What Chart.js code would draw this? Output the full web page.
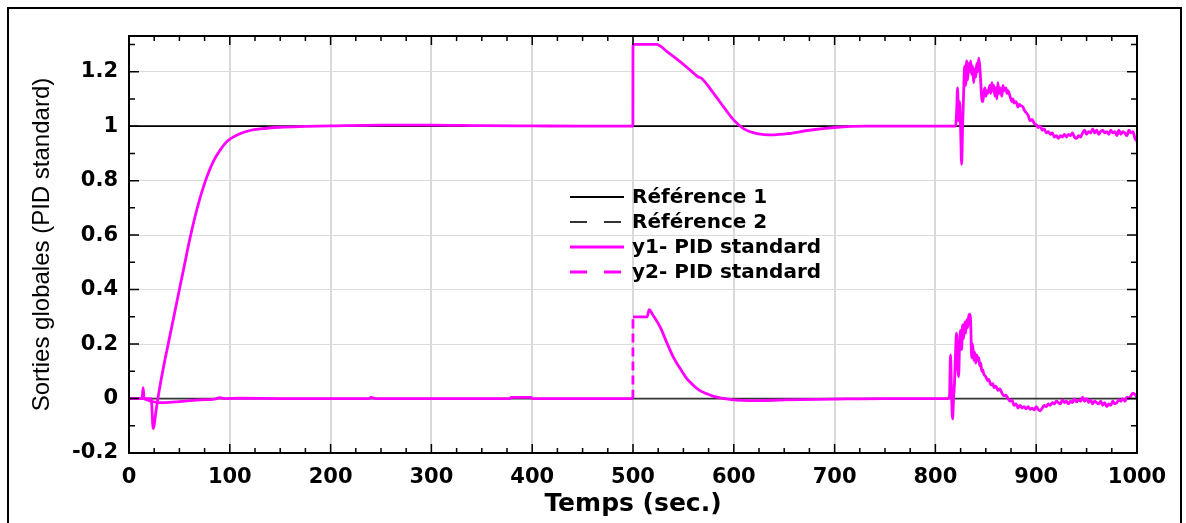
<!DOCTYPE html>
<html>
<head>
<meta charset="utf-8">
<script src="https://cdn.jsdelivr.net/npm/chart.js@4.4.0/dist/chart.umd.min.js"></script>
<style>
html, body { margin: 0; padding: 0; background: #fff; overflow: hidden; }
#frame { position: absolute; left: 7px; top: 7px; width: 1171px; height: 600px; border: 2px solid #000; }
#chart { position: absolute; left: 0; top: 0; }
</style>
</head>
<body>
<div id="frame"></div>
<canvas id="chart" width="1186" height="523"></canvas>
<script>
// ---- données ----
const legendLabels = ['Référence 1', 'Référence 2', 'y1- PID standard', 'y2- PID standard'];

const refTime = [0, 1000];
const ref1Values = [1, 1];
const ref2Values = [0, 0];

// y1 : réponse de la sortie 1
const y1Time = [
    0, 20, 22, 24, 27, 30, 35, 40, 45, 50, 55, 60, 65, 70, 75, 80, 85, 90, 95, 100,
    110, 120, 130, 150, 175, 200, 250, 300, 350, 400, 450, 499.9,
    500, 523, 535, 547, 557, 565, 567, 580, 590, 600, 610, 620, 630, 640, 655, 675, 700, 730, 818,
    820, 821, 822, 823, 824, 825, 826, 827, 828, 829, 830, 831, 832, 833, 834, 835, 836, 837, 838, 839,
    840, 841, 842, 843, 844, 845, 846, 847, 848, 849, 850, 851, 852, 854, 855, 856, 857, 858, 859, 860,
    861, 862, 863, 864, 866, 867, 868, 870, 871, 872, 874, 876, 877, 878, 880, 882, 883, 885, 887, 888,
    890, 892, 894, 896, 898, 900, 902, 904, 906, 908, 910, 912, 914, 916, 918, 920, 922, 924, 926, 928,
    930, 932, 934, 936, 938, 940, 942, 944, 946, 948, 950, 952, 954, 956, 958, 960, 962, 964, 966, 968,
    970, 972, 974, 976, 978, 980, 982, 984, 986, 988, 990, 992, 994, 996, 998, 1000
];
const y1Values = [
    0, 0, 0, -0.11, -0.04, 0.03, 0.13, 0.22, 0.31, 0.40, 0.49, 0.58, 0.66, 0.73, 0.79, 0.84, 0.88, 0.91, 0.935, 0.952,
    0.972, 0.984, 0.99, 0.996, 0.999, 1.001, 1.004, 1.004, 1.002, 1.001, 1.0, 1.0,
    1.3, 1.3, 1.27, 1.236, 1.205, 1.18, 1.178, 1.12, 1.07, 1.022, 0.99, 0.975, 0.969, 0.968, 0.973, 0.985, 0.995, 1.0, 1.0,
    1.0, 1.05, 1.14, 1.02, 1.09, 0.99, 0.86, 1.0, 1.12, 1.22, 1.15, 1.24, 1.17, 1.23, 1.2, 1.24, 1.19, 1.22, 1.16, 1.21,
    1.18, 1.23, 1.2, 1.25, 1.22, 1.16, 1.1, 1.09, 1.12, 1.14, 1.11, 1.13, 1.12, 1.15, 1.12, 1.16, 1.13, 1.15, 1.11, 1.14,
    1.1, 1.16, 1.12, 1.14, 1.11, 1.15, 1.13, 1.14, 1.12, 1.13, 1.11, 1.09, 1.1, 1.085, 1.09, 1.07, 1.08, 1.075, 1.07, 1.06,
    1.05, 1.04, 1.02, 1.025, 1.01, 1.005, 0.995, 1.0, 0.985, 0.99, 0.975, 0.98, 0.97, 0.975, 0.96, 0.965, 0.955, 0.965, 0.96, 0.97,
    0.96, 0.97, 0.965, 0.975, 0.96, 0.955, 0.965, 0.96, 0.975, 0.985, 0.97, 0.98, 0.975, 0.99, 0.975, 0.985, 0.97, 0.98, 0.985, 0.975,
    0.98, 0.97, 0.985, 0.975, 0.98, 0.965, 0.985, 0.97, 0.98, 0.975, 0.965, 0.985, 0.975, 0.98, 0.955, 0.945
];

// y2 : réponse de la sortie 2
const y2Time = [
    0, 13, 14, 15, 18, 22, 30, 40, 50, 60, 70, 85, 90, 95, 110, 150, 238, 240, 245, 378, 379, 399, 400, 499.9,
    500, 514, 516, 520, 527, 533, 540, 546, 553, 560, 566, 573, 580, 600, 620, 650, 700, 750, 812,
    814, 815, 816, 817, 818, 819, 820, 821, 822, 823, 824, 825, 826, 827, 828, 829, 830, 831, 832, 833,
    834, 835, 836, 837, 838, 839, 840, 841, 842, 843, 844, 845, 846, 847, 848, 850, 852, 853, 855, 857,
    858, 860, 862, 864, 866, 868, 870, 872, 874, 876, 878, 880, 882, 884, 886, 888, 890, 892, 894, 896,
    898, 900, 902, 904, 906, 908, 910, 912, 914, 916, 918, 920, 922, 924, 926, 928, 930, 932, 934, 936,
    938, 940, 942, 944, 946, 948, 950, 952, 954, 956, 958, 960, 962, 964, 966, 968, 970, 972, 974, 976,
    978, 980, 982, 984, 986, 988, 990, 992, 994, 996, 998, 1000
];
const y2Values = [
    0, 0, 0.04, 0, -0.005, -0.01, -0.015, -0.014, -0.011, -0.008, -0.005, -0.002, 0.003, 0, 0.001, 0, 0, 0.004, 0, 0, 0.004, 0.004, 0, 0,
    0.3, 0.3, 0.326, 0.305, 0.262, 0.21, 0.152, 0.115, 0.075, 0.048, 0.03, 0.018, 0.008, -0.005, -0.008, -0.005, -0.002, 0, 0,
    0.01, 0.16, 0.02, -0.075, 0, 0.06, 0.17, 0.24, 0.12, 0.08, 0.2, 0.25, 0.18, 0.27, 0.22, 0.28, 0.24, 0.29, 0.26, 0.3,
    0.31, 0.28, 0.15, 0.2, 0.14, 0.17, 0.13, 0.16, 0.14, 0.15, 0.12, 0.13, 0.1, 0.105, 0.09, 0.08, 0.065, 0.07, 0.05, 0.055,
    0.04, 0.045, 0.03, 0.035, 0.02, 0.01, 0.012, 0, -0.01, -0.005, -0.025, -0.02, -0.035, -0.025, -0.035, -0.03, -0.038, -0.03, -0.04, -0.035,
    -0.042, -0.03, -0.04, -0.045, -0.035, -0.025, -0.03, -0.02, -0.025, -0.015, -0.02, -0.01, -0.015, -0.02, -0.005, -0.015, -0.01, -0.02, -0.01, -0.015,
    0, -0.012, -0.005, -0.01, 0.005, -0.01, 0, -0.015, -0.005, -0.02, -0.01, -0.015, -0.02, -0.01, -0.025, -0.015, -0.03, -0.02, -0.025, -0.01,
    -0.02, -0.015, -0.005, -0.01, 0, -0.01, 0.005, 0, 0.01, 0.02, 0.015, 0.005
];

const yTicks = [-0.2, 0, 0.2, 0.4, 0.6, 0.8, 1, 1.2];

const toPoints = (xs, ys) => xs.map((v, i) => ({ x: v, y: ys[i] }));

const MAGENTA = '#ff00ff';
const legendDash = [[], [17, 17], [], [17, 17]];

// ---- cadre, graduations intérieures, légende ----
const boxPlugin = {
    id: 'boxTicks',
    afterDatasetsDraw(chart) {
        const { ctx, chartArea: a, scales: { x, y } } = chart;
        ctx.save();
        ctx.strokeStyle = '#000';
        ctx.lineWidth = 1.5;
        ctx.beginPath();
        for (let v = 0; v <= 1000; v += 25) {
            const px = x.getPixelForValue(v);
            const len = v % 100 === 0 ? 9 : 5;
            ctx.moveTo(px, a.top); ctx.lineTo(px, a.top + len);
            ctx.moveTo(px, a.bottom); ctx.lineTo(px, a.bottom - len);
        }
        for (let i = -2; i <= 13; i++) {
            const py = y.getPixelForValue(i / 10);
            const len = i % 2 === 0 ? 10 : 6;
            ctx.moveTo(a.left, py); ctx.lineTo(a.left + len, py);
            ctx.moveTo(a.right, py); ctx.lineTo(a.right - len, py);
        }
        ctx.stroke();
        ctx.lineWidth = 2;
        ctx.strokeRect(a.left, a.top, a.right - a.left, a.bottom - a.top);
        ctx.restore();
    },
    afterDraw(chart) {
        const { ctx } = chart;
        const lx = 570, ly = 197, row = 25;
        ctx.save();
        ctx.font = 'bold 20px "DejaVu Sans"';
        ctx.textBaseline = 'middle';
        ctx.fillStyle = '#000';
        chart.data.datasets.forEach((ds, i) => {
            const yy = ly + i * row;
            ctx.strokeStyle = ds.borderColor;
            ctx.lineWidth = ds.borderWidth;
            ctx.setLineDash(legendDash[i]);
            ctx.beginPath();
            ctx.moveTo(lx, yy);
            ctx.lineTo(lx + 54, yy);
            ctx.stroke();
            ctx.setLineDash([]);
            ctx.fillText(ds.label, lx + 62, yy + 1);
        });
        ctx.restore();
    }
};

// ---- graphique ----
new Chart(document.getElementById('chart').getContext('2d'), {
    type: 'line',
    data: {
        datasets: [
            { label: legendLabels[0], data: toPoints(refTime, ref1Values), borderColor: '#000', borderWidth: 1.8, order: 3 },
            { label: legendLabels[1], data: toPoints(refTime, ref2Values), borderColor: '#333', borderWidth: 1.8, order: 4 },
            { label: legendLabels[2], data: toPoints(y1Time, y1Values), borderColor: MAGENTA, borderWidth: 2.8, order: 1 },
            {
                label: legendLabels[3], data: toPoints(y2Time, y2Values), borderColor: MAGENTA, borderWidth: 2.8, order: 2,
                segment: { borderDash: (c) => Math.abs(c.p1.parsed.x - c.p0.parsed.x) < 0.5 ? [9, 5] : [] }
            }
        ]
    },
    options: {
        responsive: false,
        animation: false,
        elements: { point: { radius: 0 }, line: { cubicInterpolationMode: 'monotone', borderJoinStyle: 'round' } },
        layout: { padding: { left: 16, top: 36, right: 49, bottom: 0 } },
        plugins: { legend: { display: false }, tooltip: { enabled: false } },
        scales: {
            x: {
                type: 'linear', min: 0, max: 1000,
                border: { display: false },
                grid: { color: '#d9d9d9', lineWidth: 2, drawTicks: false },
                ticks: { stepSize: 100, maxRotation: 0, autoSkip: false, padding: 12, color: '#000',
                    callback: (v) => String(v),
                    font: { family: 'DejaVu Sans', weight: 'bold', size: 21 } },
                title: { display: true, text: 'Temps (sec.)', color: '#000', padding: { top: 0, bottom: 4 },
                    font: { family: 'DejaVu Sans', weight: 'bold', size: 25 } },
                afterFit(s) { s.height = 70; }
            },
            y: {
                type: 'linear', min: -0.2, max: 1.331,
                border: { display: false },
                grid: { color: '#dcdcdc', lineWidth: 1, drawTicks: false },
                afterBuildTicks(s) { s.ticks = yTicks.map(v => ({ value: v })); },
                ticks: { padding: 11, color: '#000', callback: (v) => String(Math.round(v * 10) / 10),
                    font: { family: 'DejaVu Sans', weight: 'bold', size: 21 } },
                title: { display: true, text: 'Sorties globales (PID standard)', color: '#000', padding: { top: 12, bottom: 0 },
                    font: { family: 'Liberation Sans', size: 24 } },
                afterFit(s) { s.width = 113; }
            }
        }
    },
    plugins: [boxPlugin]
});
</script>
</body>
</html>
